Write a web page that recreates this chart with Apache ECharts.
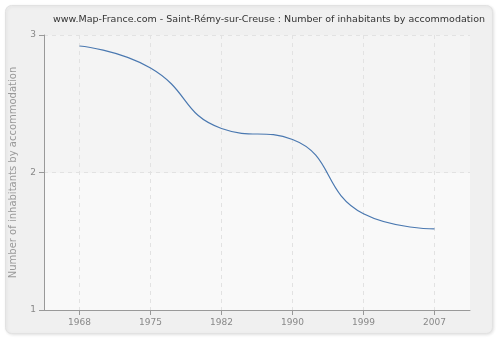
<!DOCTYPE html>
<html><head><meta charset="utf-8">
<script src="https://cdn.jsdelivr.net/npm/echarts@6/dist/echarts.min.js"></script>
<style>html,body{margin:0;padding:0;background:#fff}#c{width:500px;height:340px}</style>
</head><body><div id="c"></div>
<script>
var years = ['1968','1975','1982','1990','1999','2007'];
var values = [2.92, 2.76, 2.32, 2.24, 1.70, 1.59];
var yTicks = [1, 2, 3];
var idx = years.map(function(_, i){ return i; });
var chart = echarts.init(document.getElementById('c'), null, {renderer:'canvas'});
chart.setOption({
  backgroundColor: '#ffffff',
  animation: false,
  graphic: [{
    type: 'rect', left: 5, top: 5, z: -10,
    shape: {width: 487, height: 328, r: 6},
    style: {fill: '#f0f0f0', stroke: '#e2e2e2', lineWidth: 1,
      shadowColor: 'rgba(0,0,0,0.10)', shadowBlur: 3, shadowOffsetX: 1, shadowOffsetY: 1}
  }],
  title: {
    text: 'www.Map-France.com - Saint-Rémy-sur-Creuse : Number of inhabitants by accommodation',
    left: 48, top: 10,
    textStyle: {fontFamily: 'DejaVu Sans', fontSize: 9.5, fontWeight: 'normal', color: '#333'}
  },
  grid: {left: 40, top: 35, right: 30, bottom: 30, containLabel: false},
  xAxis: {
    type: 'value', min: -0.5, max: 5.5,
    axisLine: {onZero: false, lineStyle: {color: '#999'}},
    axisTick: {customValues: idx, length: 5, lineStyle: {color: '#999'}},
    axisLabel: {customValues: idx, color: '#888', fontFamily: 'DejaVu Sans', fontSize: 9, margin: 8,
      formatter: function(v){ return years[Math.round(v)]; }},
    splitLine: {show: true, lineStyle: {color: '#e2e2e2', type: [4, 4]}}
  },
  yAxis: {
    type: 'value', min: 1, max: 3, interval: 1,
    name: 'Number of inhabitants by accommodation',
    nameLocation: 'middle', nameGap: 26, nameRotate: 90,
    nameTextStyle: {color: '#999', fontFamily: 'DejaVu Sans', fontSize: 10},
    axisLine: {show: true, onZero: false, lineStyle: {color: '#999'}},
    axisTick: {show: true, length: 5, lineStyle: {color: '#999'}},
    axisLabel: {color: '#888', fontFamily: 'DejaVu Sans', fontSize: 9, margin: 8,
      formatter: function(v){ return yTicks.indexOf(v) >= 0 ? String(v) : ''; }},
    splitLine: {show: true, lineStyle: {color: '#e2e2e2', type: [4, 4]}},
    splitArea: {show: true, areaStyle: {color: ['#f9f9f9', '#f4f4f4']}}
  },
  series: [{
    type: 'line', data: idx.map(function(i){ return [i, values[i]]; }),
    smooth: 0.5, symbol: 'none',
    lineStyle: {color: '#4a78b0', width: 1.2}
  }]
});
</script></body></html>
